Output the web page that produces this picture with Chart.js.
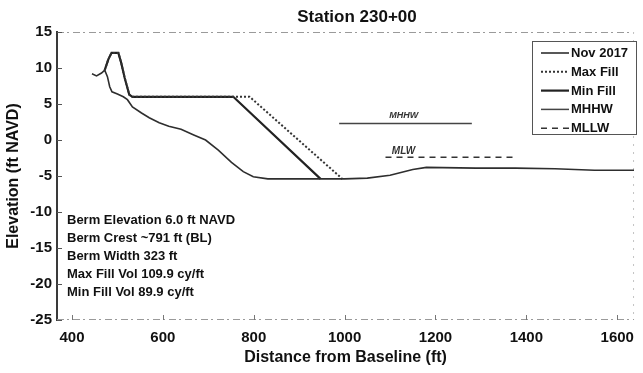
<!DOCTYPE html>
<html>
<head>
<meta charset="utf-8">
<script src="https://cdn.jsdelivr.net/npm/chart.js@4/dist/chart.umd.min.js"></script>
<style>
  html, body { margin: 0; padding: 0; background: #fff; }
  #wrap { width: 643px; height: 373px; }
</style>
</head>
<body>
<div id="wrap"><canvas id="c" width="643" height="373"></canvas></div>
<script>
// Beach profile, Station 230+00 — distance from baseline (ft) vs elevation (ft NAVD)

const novDist  = [444, 454, 465, 472, 478, 483, 488, 500, 513, 522, 533, 553, 570, 592, 613, 640, 668, 694, 722, 751, 777, 799, 831, 897, 1000, 1050, 1100, 1150, 1180, 1289, 1376, 1463, 1550, 1637];
const novElev  = [9.2, 8.9, 9.3, 9.7, 8.8, 7.4, 6.7, 6.4, 6.0, 5.6, 4.6, 3.75, 3.1, 2.4, 1.9, 1.5, 0.7, 0.0, -1.4, -3.1, -4.4, -5.1, -5.4, -5.4, -5.4, -5.3, -4.9, -4.1, -3.8, -3.9, -3.9, -4.0, -4.2, -4.2];

const maxFillDist = [472, 480, 487, 502, 508, 516, 526, 533, 791, 995];
const maxFillElev = [9.7, 11.2, 12.1, 12.1, 10.8, 8.6, 6.3, 6.0, 6.0, -5.4];

const minFillDist = [472, 480, 487, 502, 508, 516, 526, 533, 755, 947];
const minFillElev = [9.7, 11.2, 12.1, 12.1, 10.8, 8.6, 6.3, 6.0, 6.0, -5.4];

const mhhwDist = [988, 1280];
const mhhwElev = [2.3, 2.3];

const mllwDist = [1090, 1380];
const mllwElev = [-2.4, -2.4];

const xTickValues = [400, 600, 800, 1000, 1200, 1400, 1600];
const yTickValues = [-25, -20, -15, -10, -5, 0, 5, 10, 15];

const titleText = 'Station 230+00';
const noteLines = [
  'Berm Elevation 6.0 ft NAVD',
  'Berm Crest ~791 ft (BL)',
  'Berm Width 323 ft',
  'Max Fill Vol 109.9 cy/ft',
  'Min Fill Vol 89.9 cy/ft'
];

const FONT = "'Liberation Sans', Arial, sans-serif";
const toPoints = (xs, ys) => xs.map((x, i) => ({ x: x, y: ys[i] }));

// Frame, inward tick marks, title, notes, level labels and legend box
const decor = {
  id: 'decor',
  beforeDatasetsDraw(chart) {
    const { ctx, chartArea: a, scales: { x, y } } = chart;
    ctx.save();
    ctx.strokeStyle = '#9a9a9a';
    ctx.lineWidth = 1;
    ctx.setLineDash([7, 3, 2, 4]);
    ctx.beginPath();
    ctx.moveTo(a.left, a.top + 0.5); ctx.lineTo(a.right, a.top + 0.5);
    ctx.moveTo(a.left, a.bottom - 0.5); ctx.lineTo(a.right, a.bottom - 0.5);
    ctx.stroke();
    ctx.strokeStyle = '#c4c4c4';
    ctx.setLineDash([2, 6]);
    ctx.beginPath();
    ctx.moveTo(a.right - 0.5, a.top); ctx.lineTo(a.right - 0.5, a.bottom);
    ctx.stroke();
    ctx.setLineDash([]);
    // inward ticks
    ctx.strokeStyle = '#777';
    ctx.beginPath();
    xTickValues.forEach(v => {
      const px = Math.round(x.getPixelForValue(v)) + 0.5;
      ctx.moveTo(px, a.bottom); ctx.lineTo(px, a.bottom - 5);
    });
    ctx.stroke();
    ctx.strokeStyle = '#555';
    ctx.beginPath();
    yTickValues.forEach(v => {
      const py = Math.round(y.getPixelForValue(v)) + 0.5;
      ctx.moveTo(a.left, py); ctx.lineTo(a.left + 5, py);
    });
    ctx.stroke();
    ctx.restore();
  },
  afterDraw(chart) {
    const { ctx, chartArea: a, scales: { x, y } } = chart;
    ctx.save();
    // title
    ctx.fillStyle = '#111';
    ctx.font = 'bold 17px ' + FONT;
    ctx.textAlign = 'center';
    ctx.textBaseline = 'middle';
    ctx.fillText(titleText, 357, 17);

    // fill summary notes
    ctx.font = 'bold 13px ' + FONT;
    ctx.textAlign = 'left';
    noteLines.forEach((t, i) => ctx.fillText(t, a.left + 10, 220 + 18 * i));

    // tide level labels
    ctx.fillStyle = '#333';
    ctx.font = 'italic bold 9px ' + FONT;
    ctx.textAlign = 'center';
    ctx.textBaseline = 'alphabetic';
    ctx.fillText('MHHW', x.getPixelForValue(1130), y.getPixelForValue(mhhwElev[0]) - 5);
    ctx.font = 'italic bold 10px ' + FONT;
    ctx.textAlign = 'left';
    ctx.fillText('MLW', x.getPixelForValue(1104), y.getPixelForValue(mllwElev[0]) - 3);

    // legend
    const bx = 532.5, by = 41.5, bw = 104, bh = 93;
    ctx.fillStyle = '#fff';
    ctx.fillRect(bx, by, bw, bh);
    ctx.strokeStyle = '#555';
    ctx.lineWidth = 1;
    ctx.strokeRect(bx, by, bw, bh);
    ctx.font = 'bold 13px ' + FONT;
    ctx.textBaseline = 'middle';
    ctx.textAlign = 'left';
    chart.data.datasets.forEach((ds, i) => {
      const ly = 53 + 18.8 * i;
      ctx.strokeStyle = ds.borderColor;
      ctx.lineWidth = ds.borderWidth;
      ctx.setLineDash(ds.borderDash || []);
      ctx.beginPath();
      ctx.moveTo(541, ly); ctx.lineTo(569, ly);
      ctx.stroke();
      ctx.setLineDash([]);
      ctx.fillStyle = '#111';
      ctx.fillText(ds.label, 571, ly + 0.5);
    });
    ctx.restore();
  }
};

const lineStyle = { showLine: true, pointRadius: 0, fill: false, tension: 0 };

new Chart(document.getElementById('c'), {
  type: 'scatter',
  data: {
    datasets: [
      Object.assign({ label: 'Nov 2017', data: toPoints(novDist, novElev), borderColor: '#2e2e2e', borderWidth: 1.6 }, lineStyle),
      Object.assign({ label: 'Max Fill', data: toPoints(maxFillDist, maxFillElev), borderColor: '#333', borderWidth: 2, borderDash: [2, 2] }, lineStyle),
      Object.assign({ label: 'Min Fill', data: toPoints(minFillDist, minFillElev), borderColor: '#222', borderWidth: 2.2 }, lineStyle),
      Object.assign({ label: 'MHHW', data: toPoints(mhhwDist, mhhwElev), borderColor: '#444', borderWidth: 1.5 }, lineStyle),
      Object.assign({ label: 'MLLW', data: toPoints(mllwDist, mllwElev), borderColor: '#333', borderWidth: 1.5, borderDash: [6, 5] }, lineStyle)
    ]
  },
  options: {
    responsive: false,
    devicePixelRatio: 1,
    animation: false,
    layout: { padding: { left: 0, right: 3, top: 32, bottom: 0 } },
    plugins: {
      legend: { display: false },
      title: { display: false },
      tooltip: { enabled: false }
    },
    scales: {
      x: {
        type: 'linear',
        min: 367,
        max: 1637,
        afterBuildTicks: s => { s.ticks = xTickValues.map(v => ({ value: v })); },
        afterFit: s => { s.height = 53; },
        grid: { display: false, drawTicks: false },
        border: { display: false },
        ticks: {
          color: '#111',
          font: { family: FONT, size: 15, weight: 'bold' },
          padding: 9,
          maxRotation: 0,
          callback: v => String(v)
        },
        title: {
          display: true,
          text: 'Distance from Baseline (ft)',
          color: '#111',
          font: { family: FONT, size: 16, weight: 'bold' },
          padding: { top: 0, bottom: 6 }
        }
      },
      y: {
        type: 'linear',
        min: -25,
        max: 15,
        afterBuildTicks: s => { s.ticks = yTickValues.map(v => ({ value: v })); },
        afterFit: s => { s.width = 57; },
        grid: { display: false, drawTicks: false },
        border: { display: true, color: '#3a3a3a', width: 2 },
        ticks: {
          color: '#111',
          font: { family: FONT, size: 15, weight: 'bold' },
          padding: 5,
          callback: v => String(v)
        },
        title: {
          display: true,
          text: 'Elevation (ft NAVD)',
          color: '#111',
          font: { family: FONT, size: 16, weight: 'bold' },
          padding: { top: 4, bottom: 0 }
        }
      }
    }
  },
  plugins: [decor]
});
</script>
</body>
</html>
